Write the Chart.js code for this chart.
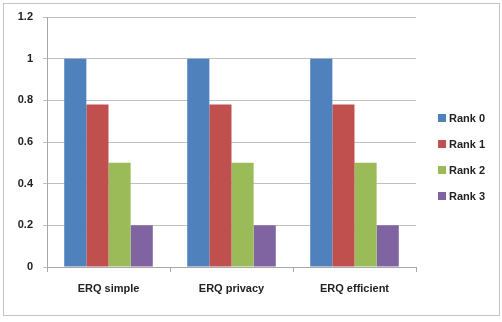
<!DOCTYPE html>
<html>
<head>
<meta charset="utf-8">
<script src="https://cdn.jsdelivr.net/npm/chart.js@4"></script>
<style>
    body { margin: 0; background: #fff; }
    #wrap { position: absolute; left: 0; top: 0; width: 502px; height: 322px; }
    #frame { position: absolute; left: 3px; top: 3px; width: 495px; height: 311px; border: 1px solid #c4c4c4; }
    #legend { position: absolute; left: 438px; top: 111px; font: bold 11px "Liberation Sans", Arial, sans-serif; color: #222; }
    #legend div { height: 26px; line-height: 14px; white-space: nowrap; }
    #legend span { display: inline-block; width: 8px; height: 8px; margin-right: 3px; vertical-align: 0px; }
</style>
</head>
<body>
<div id="frame"></div>
<div id="wrap"><canvas id="chart" width="502" height="322"></canvas></div>
<div id="legend"></div>
<script>
const categories = ['ERQ simple', 'ERQ privacy', 'ERQ efficient'];
const seriesNames = ['Rank 0', 'Rank 1', 'Rank 2', 'Rank 3'];
const rank0 = [1, 1, 1];
const rank1 = [0.78, 0.78, 0.78];
const rank2 = [0.5, 0.5, 0.5];
const rank3 = [0.2, 0.2, 0.2];
const colors = ['#4F81BD', '#C0504D', '#9BBB59', '#8064A2'];

const font = { family: '"Liberation Sans", Arial, sans-serif', size: 11, weight: 'bold' };

const ctx = document.getElementById('chart').getContext('2d');
const chart = new Chart(ctx, {
    type: 'bar',
    data: {
        labels: categories,
        datasets: [rank0, rank1, rank2, rank3].map((d, i) => ({
            label: seriesNames[i],
            data: d,
            backgroundColor: colors[i],
            borderWidth: 0
        }))
    },
    options: {
        responsive: false,
        animation: false,
        layout: { padding: { left: 0, right: 86, top: 17, bottom: 0 } },
        plugins: {
            legend: { display: false },
            tooltip: { enabled: false }
        },
        datasets: {
            bar: { categoryPercentage: 0.72, barPercentage: 1 }
        },
        scales: {
            x: {
                grid: { drawOnChartArea: false, tickLength: 5, color: '#a8a8a8' },
                border: { color: '#a8a8a8' },
                ticks: { font: font, color: '#222', padding: 10 },
                afterFit: s => { s.height = 322 - 267; }
            },
            y: {
                min: 0,
                max: 1.2,
                ticks: {
                    stepSize: 0.2,
                    font: font,
                    color: '#222',
                    padding: 10,
                    callback: v => String(+v.toFixed(1))
                },
                grid: { color: '#c0c0c0', tickLength: 4 },
                border: { color: '#a8a8a8' },
                afterFit: s => { s.width = 47; }
            }
        }
    }
});

// legend as html
const legend = document.getElementById('legend');
seriesNames.forEach((name, i) => {
    const row = document.createElement('div');
    row.innerHTML = '<span style="background:' + colors[i] + '"></span>' + name;
    legend.appendChild(row);
});
</script>
</body>
</html>
